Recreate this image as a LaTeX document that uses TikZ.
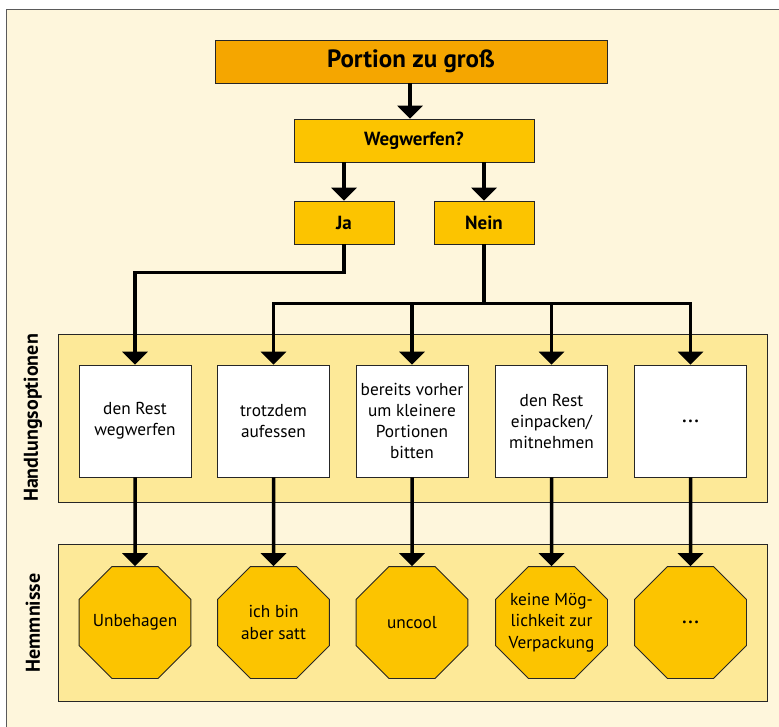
\documentclass[tikz,border=0pt]{standalone}
\usepackage{fontspec}
\setmainfont{PT Sans}
\usetikzlibrary{shapes.geometric,arrows.meta}

\definecolor{cream}{HTML}{FEF6DC}
\definecolor{band}{HTML}{FDE998}
\definecolor{orangebox}{HTML}{F5A600}
\definecolor{yellowbox}{HTML}{FCC400}
\definecolor{framegray}{HTML}{5A5A5A}

\begin{document}
\begin{tikzpicture}[x=1pt,y=-1pt,
		ybox/.style={draw=black!85,line width=0.8pt,fill=yellowbox,inner sep=0pt,font=\bfseries\fontsize{19}{23}\selectfont},
		optbox/.style={draw=black!85,line width=0.8pt,fill=white,minimum width=112pt,minimum height=112pt,inner sep=0pt,align=center,font=\fontsize{17.3}{21}\selectfont},
		stopsign/.style={regular polygon,regular polygon sides=8,minimum size=121pt,draw=black!85,line width=0.8pt,fill=yellowbox,inner sep=-14pt,align=center,font=\fontsize{17.3}{21.5}\selectfont},
		sidelabel/.style={rotate=90,font=\bfseries\fontsize{20}{24}\selectfont},
		arr/.style={line width=3.5pt,-{Triangle[width=25pt,length=13pt]}}]

		      		\clip (0,0) rectangle (779,726);
		      		\fill[white] (0,0) rectangle (779,726);
		      		\draw[framegray,fill=cream,line width=0.8pt] (6,9) rectangle (800,750);

		      		\draw[black!85,fill=band,line width=0.8pt] (58,334) rectangle (767,502);
		      		\draw[black!85,fill=band,line width=0.8pt] (58,544) rectangle (767,701);
		      		\node[sidelabel] (lblopt) at (33,418) {Handlungsoptionen};
		      		\node[sidelabel] (lblhem) at (33,623) {Hemmnisse};

		      		% question part
		      		\node[ybox,fill=orangebox,minimum width=392pt,minimum height=43pt,font=\bfseries\fontsize{25}{30}\selectfont] (portion) at (411,61.5) {Portion zu groß};
		      		\node[ybox,minimum width=240pt,minimum height=43pt] (weg) at (414,140.5) {Wegwerfen?};
		      		\node[ybox,minimum width=100pt,minimum height=43pt] (ja) at (344,222.5) {Ja};
		      		\node[ybox,minimum width=100pt,minimum height=43pt] (nein) at (484,222.5) {Nein};

		      		% options
		      		\node[optbox] (opt1) at (135,421) {den Rest\\wegwerfen};
		      		\node[optbox] (opt2) at (273.5,421) {trotzdem\\aufessen};
		      		\node[optbox] (opt3) at (412,421) {bereits vorher\\um kleinere\\Portionen\\bitten};
		      		\node[optbox] (opt4) at (551.5,421) {den Rest\\einpacken/\\mitnehmen};
		      		\node[optbox,font=\fontsize{24}{24}\selectfont] (opt5) at (690.5,421) {…};

		      		% obstacles
		      		\node[stopsign] (hem1) at (135,622.5) {Unbehagen};
		      		\node[stopsign] (hem2) at (273.5,622.5) {ich bin\\aber satt};
		      		\node[stopsign] (hem3) at (412,622.5) {uncool};
		      		\node[stopsign] (hem4) at (551.5,622.5) {keine Mög-\\lichkeit zur\\Verpackung};
		      		\node[stopsign,font=\fontsize{24}{24}\selectfont] (hem5) at (690.5,622.5) {…};

		      		\draw[arr] (portion.south -| 410,0) -- (weg.north -| 410,0);
		      		\draw[arr] (weg.south -| ja.north) -- (ja.north);
		      		\draw[arr] (weg.south -| nein.north) -- (nein.north);

		      		\draw[arr] (ja.south) -- ++(0,28) -| (opt1.north);
		      		\draw[line width=3.5pt] (nein.south) -- ++(0,59) coordinate (split);
		      		\foreach \i in {2,...,5}
		      			\draw[arr] (split) -| (opt\i.north);
		      		\foreach \i in {1,...,5}
		      			\draw[arr] (opt\i.south) -- (hem\i.north);

		      	\end{tikzpicture}
\end{document}
